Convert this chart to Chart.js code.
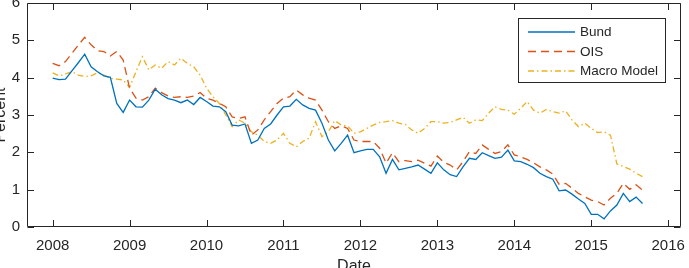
<!DOCTYPE html>
<html>
<head>
<meta charset="utf-8">
<script src="https://cdn.jsdelivr.net/npm/chart.js@4.4.1/dist/chart.umd.min.js"></script>
<style>
  html, body { margin: 0; padding: 0; background: #fff; }
  canvas { display: block; }
</style>
</head>
<body>
<canvas id="c" width="689" height="268"></canvas>
<script>
// Monthly 10y rates, Jan 2008 – Sep 2015 (percent).
const YEAR_TICKS = [2008, 2009, 2010, 2011, 2012, 2013, 2014, 2015, 2016];
const PERCENT_TICKS = [0, 1, 2, 3, 4, 5, 6];

const bund = [
  3.99, 3.95, 3.96, 4.18, 4.40, 4.63, 4.29, 4.16, 4.05, 4.01, 3.31, 3.07,
  3.40, 3.22, 3.21, 3.40, 3.69, 3.54, 3.44, 3.40, 3.33, 3.40, 3.28, 3.47,
  3.36, 3.24, 3.22, 3.09, 2.73, 2.71, 2.76, 2.24, 2.33, 2.64, 2.76, 3.00,
  3.22, 3.24, 3.42, 3.27, 3.18, 3.13, 2.78, 2.33, 2.04, 2.24, 2.46, 1.99,
  2.04, 2.08, 2.08, 1.88, 1.44, 1.81, 1.53, 1.57, 1.61, 1.66, 1.55, 1.44,
  1.72, 1.53, 1.40, 1.35, 1.61, 1.84, 1.81, 1.99, 1.91, 1.84, 1.87, 2.06,
  1.77, 1.75, 1.68, 1.59, 1.44, 1.35, 1.28, 0.97, 0.99, 0.88, 0.75, 0.63,
  0.34, 0.34, 0.22, 0.43, 0.59, 0.90, 0.68, 0.80, 0.63,
];
const ois = [
  4.38, 4.32, 4.43, 4.65, 4.87, 5.08, 4.88, 4.72, 4.70, 4.58, 4.70, 4.47,
  3.72, 3.45, 3.40, 3.49, 3.72, 3.60, 3.51, 3.47, 3.49, 3.47, 3.51, 3.60,
  3.45, 3.40, 3.31, 3.22, 2.95, 2.91, 2.95, 2.46, 2.60, 2.87, 3.09, 3.31,
  3.45, 3.49, 3.67, 3.54, 3.45, 3.40, 3.13, 2.82, 2.64, 2.71, 2.64, 2.33,
  2.29, 2.29, 2.29, 2.11, 1.71, 1.99, 1.75, 1.78, 1.75, 1.79, 1.71, 1.63,
  1.90, 1.73, 1.66, 1.53, 1.75, 2.02, 1.97, 2.20, 2.08, 1.97, 2.02, 2.20,
  1.93, 1.88, 1.81, 1.72, 1.61, 1.53, 1.42, 1.14, 1.17, 1.04, 0.90, 0.81,
  0.72, 0.68, 0.59, 0.77, 0.90, 1.17, 1.01, 1.13, 0.99,
];
const macro = [
  4.13, 4.05, 4.10, 4.16, 4.07, 4.03, 4.05, 4.13, 4.07, 3.98, 3.96, 3.94,
  3.74, 4.16, 4.56, 4.21, 4.34, 4.25, 4.43, 4.34, 4.52, 4.38, 4.29, 4.07,
  3.72, 3.49, 3.31, 3.00, 2.69, 2.87, 2.78, 2.55, 2.46, 2.29, 2.24, 2.33,
  2.51, 2.24, 2.15, 2.29, 2.38, 2.82, 2.42, 2.55, 2.85, 2.73, 2.71, 2.51,
  2.55, 2.64, 2.73, 2.80, 2.82, 2.85, 2.78, 2.75, 2.60, 2.51, 2.64, 2.82,
  2.82, 2.78, 2.80, 2.87, 2.94, 2.78, 2.87, 2.85, 3.05, 3.22, 3.15, 3.13,
  3.02, 3.18, 3.36, 3.13, 3.05, 3.15, 3.09, 3.05, 3.11, 2.87, 2.69, 2.78,
  2.64, 2.53, 2.55, 2.46, 1.69, 1.62, 1.55, 1.44, 1.35,
];

// month labels 2008-01 .. 2015-09
const months = [];
for (let y = 2008; y <= 2015; y++) {
  for (let m = 1; m <= 12; m++) {
    if (y === 2015 && m > 9) break;
    months.push(`${y}-${String(m).padStart(2, '0')}`);
  }
}
const toYear = (s) => { const [y, m] = s.split('-').map(Number); return y + (m - 1) / 12; };
const pts = (vals) => vals.map((v, i) => ({ x: toYear(months[i]), y: v }));

const FONT = '"Liberation Sans", Arial, Helvetica, sans-serif';
const INK = '#262626';

// MATLAB-ish axes: box, inward ticks, axis titles, in-plot legend
const matlabAxes = {
  id: 'matlabAxes',
  afterDraw(chart) {
    const ctx = chart.ctx;
    const a = chart.chartArea;
    const xs = chart.scales.x, ys = chart.scales.y;
    const L = Math.round(a.left) + 0.5, R = Math.round(a.right) - 0.5;
    const T = Math.round(a.top) + 0.5, B = Math.round(a.bottom) - 0.5;
    ctx.save();
    ctx.setLineDash([]);
    ctx.globalAlpha = 1;
    ctx.strokeStyle = INK;
    ctx.lineWidth = 1;
    ctx.beginPath();
    ctx.moveTo(L, T); ctx.lineTo(R, T); ctx.lineTo(R, B); ctx.lineTo(L, B); ctx.closePath();
    YEAR_TICKS.forEach((v) => {
      const px = Math.round(xs.getPixelForValue(v)) + 0.5;
      ctx.moveTo(px, B); ctx.lineTo(px, B - 6.5);
      ctx.moveTo(px, T); ctx.lineTo(px, T + 6.5);
    });
    PERCENT_TICKS.forEach((v) => {
      const py = Math.round(ys.getPixelForValue(v)) + 0.5;
      ctx.moveTo(L, py); ctx.lineTo(L + 6.5, py);
      ctx.moveTo(R, py); ctx.lineTo(R - 6.5, py);
    });
    ctx.stroke();

    // axis titles
    ctx.fillStyle = INK;
    ctx.font = `16px ${FONT}`;
    ctx.textAlign = 'center';
    ctx.textBaseline = 'alphabetic';
    ctx.fillText('Date', (a.left + a.right) / 2, 271);
    ctx.save();
    ctx.translate(5, (a.top + a.bottom) / 2);
    ctx.rotate(-Math.PI / 2);
    ctx.fillText('Percent', 0, 0);
    ctx.restore();

    // legend
    const lx = 518.5, ly = 18.5, lw = 147, lh = 64;
    ctx.fillStyle = '#fff';
    ctx.fillRect(lx, ly, lw, lh);
    ctx.strokeStyle = INK;
    ctx.strokeRect(lx, ly, lw, lh);
    ctx.font = `13.5px ${FONT}`;
    ctx.textAlign = 'left';
    ctx.textBaseline = 'middle';
    chart.data.datasets.forEach((ds, i) => {
      const ry = 32 + i * 19.5;
      ctx.strokeStyle = ds.borderColor;
      ctx.lineWidth = ds.borderWidth;
      ctx.setLineDash(ds.borderDash || []);
      ctx.beginPath();
      ctx.moveTo(528, ry); ctx.lineTo(575, ry);
      ctx.stroke();
      ctx.setLineDash([]);
      ctx.fillStyle = INK;
      ctx.fillText(ds.label, 580, ry + 0.5);
    });
    ctx.restore();
  },
};

new Chart(document.getElementById('c'), {
  type: 'line',
  data: {
    datasets: [
      { label: 'Bund', data: pts(bund), borderColor: '#0072BD', borderWidth: 1.3, borderDash: [] },
      { label: 'OIS', data: pts(ois), borderColor: '#D95319', borderWidth: 1.3, borderDash: [8, 5] },
      { label: 'Macro Model', data: pts(macro), borderColor: '#EDB120', borderWidth: 1.3, borderDash: [6, 3, 1.5, 3] },
    ],
  },
  options: {
    responsive: false,
    animation: false,
    devicePixelRatio: 1,
    layout: { padding: { top: 3, right: 8, left: 0, bottom: 0 } },
    elements: { point: { radius: 0 }, line: { tension: 0 } },
    plugins: { legend: { display: false }, tooltip: { enabled: false } },
    scales: {
      x: {
        type: 'linear',
        min: 2007 + 8 / 12,
        max: 2016 + 2 / 12,
        grid: { display: false, drawTicks: false },
        border: { display: false },
        afterBuildTicks: (s) => { s.ticks = YEAR_TICKS.map((v) => ({ value: v })); },
        afterFit: (s) => { s.height = 41; s.paddingLeft = 0; s.paddingRight = 0; },
        ticks: { padding: 10, color: INK, font: { family: FONT, size: 15 }, maxRotation: 0, callback: (v) => String(v) },
      },
      y: {
        min: 0,
        max: 6,
        grid: { display: false, drawTicks: false },
        border: { display: false },
        afterBuildTicks: (s) => { s.ticks = PERCENT_TICKS.map((v) => ({ value: v })); },
        afterFit: (s) => { s.width = 27; s.paddingTop = 0; s.paddingBottom = 0; },
        ticks: { padding: 7, color: INK, font: { family: FONT, size: 15 } },
      },
    },
  },
  plugins: [matlabAxes],
});
</script>
</body>
</html>
